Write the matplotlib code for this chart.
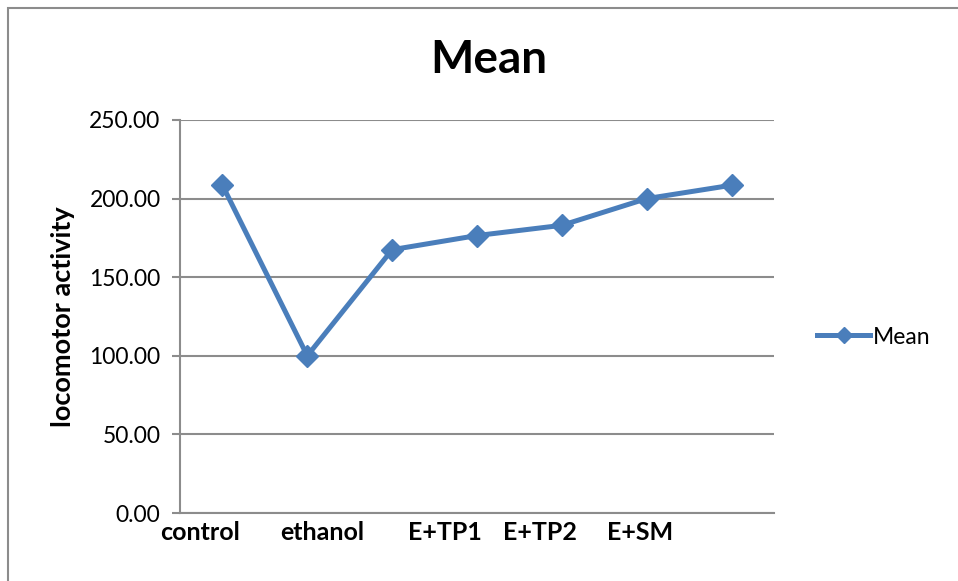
import matplotlib
matplotlib.use("Agg")
import matplotlib.pyplot as plt
from matplotlib.patches import Rectangle
from matplotlib.lines import Line2D

# Mean locomotor activity per group
groups = ["control", "ethanol", "E+TP1", "E+TP2", "E+SM", "", ""]
mean_values = [208.5, 100.0, 167.5, 176.5, 183.0, 200.0, 208.5]
shown_labels = ["control", "ethanol", "E+TP1", "E+TP2", "E+SM"]
label_slots = [-0.26, 1.18, 2.62, 3.74, 4.92]
y_ticks = [0, 50, 100, 150, 200, 250]

W, H, DPI = 958, 581, 100
fig = plt.figure(figsize=(W / DPI, H / DPI), dpi=DPI)
fig.patch.set_facecolor("white")

# chart frame
fig.patches.append(Rectangle((8 / W, -0.1), 1.2, 1.1 - 8 / H,
                             transform=fig.transFigure, fill=False,
                             edgecolor="#8c8c8c", linewidth=1.5))

left, right, top, bottom = 180, 774, 120, 513
ax = fig.add_axes([left / W, 1 - bottom / H, (right - left) / W, (bottom - top) / H])

blue = "#4A7EBB"
x = list(range(len(groups)))
ax.plot(x, mean_values, color=blue, linewidth=3.6, marker="D",
        markersize=11, markerfacecolor=blue, markeredgecolor=blue, zorder=3)

ax.set_xlim(-0.5, len(groups) - 0.5)
ax.set_ylim(0, 250)
ax.set_yticks(y_ticks)
ax.set_yticklabels([f"{v:.2f}" for v in y_ticks], fontfamily="Lato", fontsize=16.5)
ax.yaxis.grid(True, color="#8c8c8c", linewidth=1.5)
ax.set_axisbelow(True)

ax.set_xticks(label_slots)
ax.set_xticklabels(shown_labels, fontfamily="Lato", fontweight="bold", fontsize=18)
ax.tick_params(axis="x", length=0, pad=6)
ax.tick_params(axis="y", length=6, width=1.5, color="#8c8c8c", pad=8)

for s in ["top", "right"]:
    ax.spines[s].set_visible(False)
for s in ["left", "bottom"]:
    ax.spines[s].set_color("#8c8c8c")
    ax.spines[s].set_linewidth(1.5)

ax.set_ylabel("locomotor activity", fontfamily="Lato", fontweight="bold",
              fontsize=19.5, labelpad=10)

fig.text((432 + 545) / 2 / W, 1 - 60 / H, "Mean", ha="center", va="center",
         fontfamily="Lato", fontweight="bold", fontsize=33)

handle = Line2D([], [], color=blue, linewidth=3.6, marker="D", markersize=8,
                markerfacecolor=blue, markeredgecolor=blue)
fig.legend(handles=[handle], labels=["Mean"], loc="center left",
           bbox_to_anchor=(806 / W, 1 - 337 / H), frameon=False,
           prop={"family": "Lato", "size": 16.5}, handlelength=2.3,
           handletextpad=0.1, borderpad=0)

fig.savefig("out.png", dpi=DPI, facecolor="white")
